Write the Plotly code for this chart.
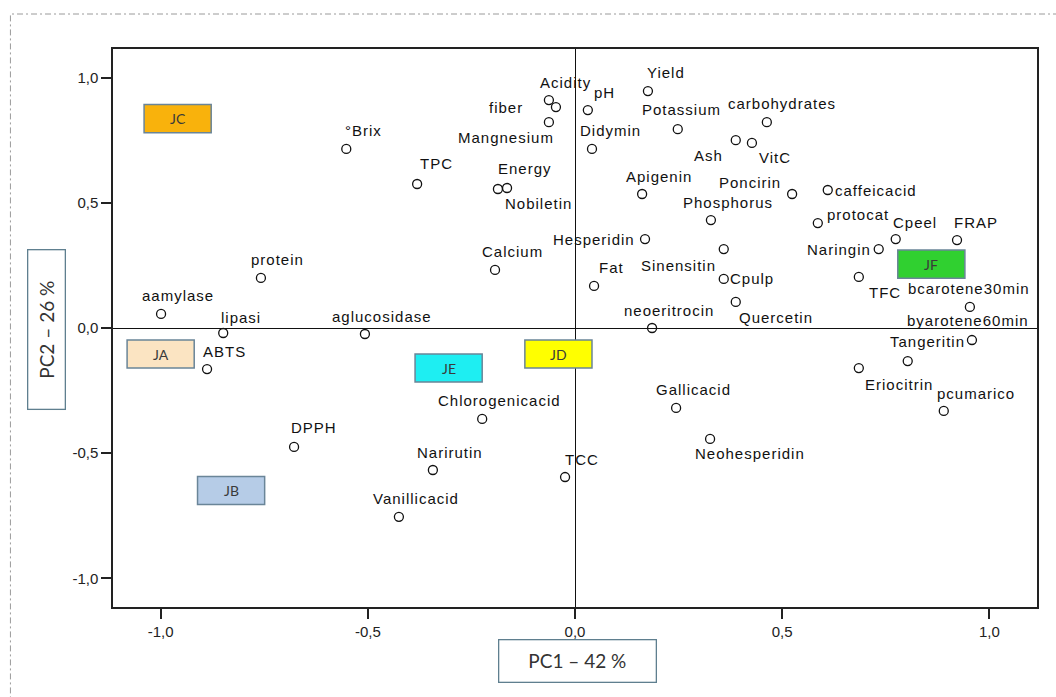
import plotly.graph_objects as go

# PCA loadings of the measured variables (PC1, PC2)
variables = [
    "aamylase", "lipasi", "ABTS", "protein", "°Brix", "TPC", "aglucosidase", "DPPH",
    "Narirutin", "Vanillicacid", "Chlorogenicacid", "Calcium", "Energy", "Nobiletin",
    "Acidity", "fiber", "Mangnesium", "pH", "Didymin", "Yield", "Potassium",
    "carbohydrates", "Ash", "VitC", "Apigenin", "Poncirin", "Phosphorus", "Hesperidin",
    "Fat", "Sinensitin", "Cpulp", "Quercetin", "neoeritrocin", "caffeicacid", "protocat",
    "Cpeel", "FRAP", "Naringin", "TFC", "bcarotene30min", "byarotene60min", "Tangeritin",
    "Eriocitrin", "pcumarico", "Gallicacid", "Neohesperidin", "TCC",
]
pc1 = [
    -0.999, -0.849, -0.888, -0.758, -0.552, -0.381, -0.507, -0.678,
    -0.343, -0.425, -0.224, -0.193, -0.186, -0.164,
    -0.063, -0.046, -0.063, 0.031, 0.041, 0.176, 0.248,
    0.463, 0.388, 0.427, 0.162, 0.524, 0.328, 0.169,
    0.046, 0.359, 0.359, 0.388, 0.186, 0.610, 0.586,
    0.774, 0.922, 0.733, 0.685, 0.953, 0.958, 0.803,
    0.685, 0.890, 0.244, 0.326, -0.024,
]
pc2 = [
    0.056, -0.020, -0.164, 0.200, 0.715, 0.575, -0.024, -0.475,
    -0.567, -0.754, -0.363, 0.232, 0.555, 0.559,
    0.910, 0.882, 0.822, 0.870, 0.715, 0.946, 0.794,
    0.822, 0.750, 0.739, 0.535, 0.535, 0.431, 0.355,
    0.168, 0.315, 0.196, 0.104, 0.000, 0.551, 0.419,
    0.355, 0.351, 0.315, 0.204, 0.084, -0.048, -0.132,
    -0.160, -0.331, -0.319, -0.443, -0.595,
]

# Sample (juice) scores
groups = ["JA", "JB", "JC", "JD", "JE", "JF"]
group_pc1 = [-1.000, -0.830, -0.959, -0.040, -0.305, 0.860]
group_pc2 = [-0.104, -0.649, 0.836, -0.104, -0.160, 0.255]

tick_vals = [-1.0, -0.5, 0.0, 0.5, 1.0]
tick_text = ["-1,0", "-0,5", "0,0", "0,5", "1,0"]

# styling
group_fill = {
    "JA": "#fbe4c2", "JB": "#b6cce7", "JC": "#f9b20c",
    "JD": "#ffff00", "JE": "#1eeef2", "JF": "#30d030",
}
box_half_w, box_half_h = 0.081, 0.056

# label placement: (xshift px, yshift px, xanchor)
default_place = (17, 18, "center")
label_place = {
    "lipasi": (18, 16, "center"),
    "DPPH": (20, 19, "center"),
    "Energy": (-2, 21, "left"),
    "Nobiletin": (-4, -15, "left"),
    "fiber": (-31, 0, "right"),
    "Mangnesium": (7, -15, "right"),
    "Potassium": (4, 20, "center"),
    "carbohydrates": (15, 19, "center"),
    "Ash": (-11, -15, "right"),
    "VitC": (5, -15, "left"),
    "Poncirin": (-9, 12, "right"),
    "Hesperidin": (-8, 0, "right"),
    "Sinensitin": (-6, -16, "right"),
    "Cpulp": (4, 0, "left"),
    "Quercetin": (1, -16, "left"),
    "caffeicacid": (5, 0, "left"),
    "protocat": (7, 9, "left"),
    "Cpeel": (19, 17, "center"),
    "FRAP": (19, 18, "center"),
    "Naringin": (-6, 0, "right"),
    "TFC": (8, -16, "left"),
    "bcarotene30min": (-1, 18, "center"),
    "byarotene60min": (-4, 20, "center"),
    "Tangeritin": (20, 20, "center"),
    "Eriocitrin": (4, -16, "left"),
    "pcumarico": (-9, 17, "left"),
    "Neohesperidin": (-17, -15, "left"),
    "Yield": (18, 19, "center"),
    "Didymin": (19, 18, "center"),
    "TPC": (19, 20, "center"),
}

LABEL_FONT = dict(family="Liberation Sans, Arial, sans-serif", size=15, color="#111111")


def spaced(text, px=1):
    return f'<span style="letter-spacing:{px}px">{text}</span>'


fig = go.Figure()

fig.add_trace(go.Scatter(
    x=pc1, y=pc2, mode="markers",
    marker=dict(symbol="circle-open", size=9, color="#111111", line=dict(width=1.3)),
    showlegend=False, hoverinfo="text", text=variables,
))

annotations = []
for name, x, y in zip(variables, pc1, pc2):
    dx, dy, anchor = label_place.get(name, default_place)
    annotations.append(dict(
        x=x, y=y, xref="x", yref="y", text=spaced(name), showarrow=False,
        xanchor=anchor, yanchor="middle", xshift=dx, yshift=dy, font=LABEL_FONT,
    ))

shapes = []
for g, x, y in zip(groups, group_pc1, group_pc2):
    shapes.append(dict(
        type="rect", xref="x", yref="y",
        x0=x - box_half_w, x1=x + box_half_w, y0=y - box_half_h, y1=y + box_half_h,
        fillcolor=group_fill[g], line=dict(color="#6a8598", width=1.5), layer="above",
    ))
    annotations.append(dict(
        x=x, y=y, xref="x", yref="y", text=g, showarrow=False,
        xanchor="center", yanchor="middle",
        font=dict(family="Lato, Noto Sans, sans-serif", size=14, color="#3a3a3a"),
    ))

# dash-dot outer frame
shapes.append(dict(
    type="rect", xref="paper", yref="paper",
    x0=-0.111, x1=1.06, y0=-0.2, y1=1.0627,
    line=dict(color="#9a9a9a", width=1, dash="6px,3px,2px,3px"),
    layer="below",
))

title_font = dict(family="Lato, Noto Sans, sans-serif", size=19, color="#333333")
annotations.append(dict(
    x=0.503, y=-0.0959, xref="paper", yref="paper", text="PC1 – 42 %",
    showarrow=False, xanchor="center", yanchor="middle", font=title_font,
    width=156, height=41, borderpad=0, bordercolor="#5f7f8f", borderwidth=1.3,
    bgcolor="#ffffff",
))
annotations.append(dict(
    x=-0.0725, y=0.4964, xref="paper", yref="paper", text="PC2 – 26 %",
    showarrow=False, xanchor="center", yanchor="middle", font=title_font,
    textangle=-90, width=158, height=36, borderpad=0, bordercolor="#5f7f8f",
    borderwidth=1.3, bgcolor="#ffffff",
))

axis_common = dict(
    showgrid=False, zeroline=True, zerolinecolor="#111111", zerolinewidth=1.2,
    showline=True, linecolor="#222222", linewidth=1.5, mirror=True,
    ticks="outside", ticklen=10, tickwidth=1.5, tickcolor="#222222",
    tickvals=tick_vals, ticktext=tick_text,
    tickfont=dict(family="Liberation Sans, Arial, sans-serif", size=15, color="#222222"),
)

fig.update_layout(
    width=1056, height=697,
    margin=dict(l=113, r=19, t=49, b=90),
    paper_bgcolor="#ffffff", plot_bgcolor="#ffffff",
    xaxis=dict(range=[-1.115, 1.115], **axis_common),
    yaxis=dict(range=[-1.114, 1.114], **axis_common),
    shapes=shapes, annotations=annotations,
    showlegend=False,
)

fig.write_html("out.html")
